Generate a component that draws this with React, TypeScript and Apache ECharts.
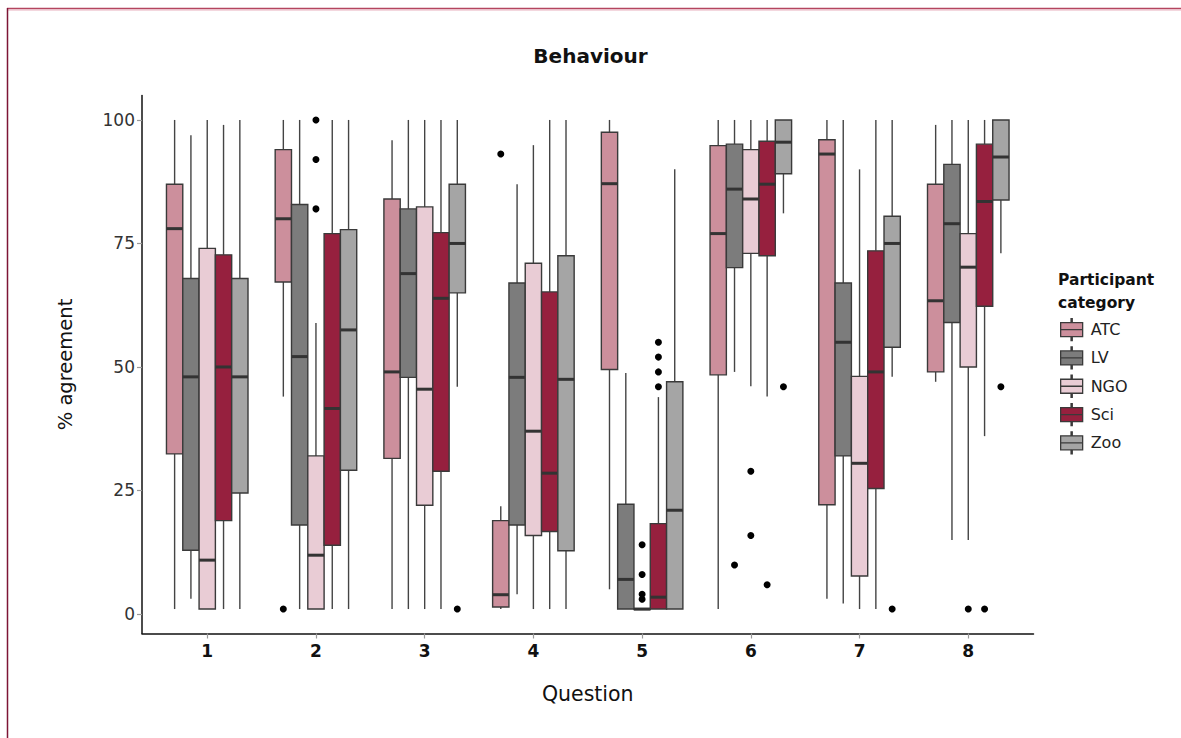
import React, { useEffect, useRef } from "react";
import * as echarts from "echarts";

const questions = [1, 2, 3, 4, 5, 6, 7, 8];
const groups = ["ATC", "LV", "NGO", "Sci", "Zoo"];
const colors = ["#CC8F9C", "#7C7C7C", "#E9CCD5", "#96203E", "#A5A5A5"];
const yTicks = [0, 25, 50, 75, 100];

// [min, q1, median, q3, max] per question 1..8
const atcStats = [
  [1, 32.4, 78, 87, 100],
  [44, 67.2, 80, 94, 100],
  [1, 31.5, 49, 84, 95.9],
  [1, 1.4, 3.9, 18.9, 21.8],
  [5, 49.5, 87.1, 97.5, 100],
  [1, 48.4, 77, 94.8, 100],
  [3.1, 22.1, 93.1, 96, 100],
  [47, 49, 63.4, 87, 99],
];
const lvStats = [
  [3.1, 12.9, 48, 67.9, 96.9],
  [1, 18, 52.1, 82.9, 100],
  [1, 47.9, 68.9, 82, 100],
  [4, 18, 47.9, 67, 87],
  [1, 1, 7, 22.2, 48.8],
  [49, 70.1, 86, 95.1, 100],
  [2.1, 32, 55, 67, 100],
  [15, 59, 79, 91, 100],
];
const ngoStats = [
  [1, 1, 10.9, 74, 100],
  [1, 1, 11.9, 32, 58.9],
  [1, 22, 45.5, 82.4, 100],
  [1, 15.9, 37, 71, 94.9],
  [1, 1, 1, 1, 1],
  [46.1, 73, 84, 94, 100],
  [1, 7.7, 30.5, 48.1, 90],
  [15, 50, 70.2, 77, 100],
];
const sciStats = [
  [1, 18.9, 50, 72.7, 99],
  [1, 13.9, 41.6, 77, 100],
  [1, 28.9, 63.9, 77.2, 100],
  [1, 16.7, 28.5, 65.2, 100],
  [1, 1, 3.4, 18.3, 43.9],
  [44, 72.5, 87, 95.7, 100],
  [1, 25.4, 49, 73.5, 100],
  [36, 62.3, 83.5, 95.1, 100],
];
const zooStats = [
  [1, 24.5, 48, 67.9, 100],
  [1, 29.1, 57.5, 77.8, 100],
  [46, 65, 75, 87, 100],
  [1, 12.8, 47.5, 72.5, 100],
  [1, 1, 21, 47, 90],
  [81.1, 89.1, 95.5, 100, 100],
  [48, 54, 75, 80.5, 100],
  [73, 83.8, 92.5, 100, 100],
];

// outliers: [question, value]
const atcOutliers = [[2, 1], [4, 93.1]];
const lvOutliers = [[6, 9.9]];
const ngoOutliers = [
  [2, 100], [2, 92], [2, 82],
  [5, 14], [5, 8], [5, 4], [5, 3],
  [6, 28.9], [6, 15.9], [8, 1],
];
const sciOutliers = [[5, 55], [5, 52], [5, 49], [5, 46], [6, 5.9], [8, 1]];
const zooOutliers = [[3, 1], [6, 46], [7, 1], [8, 46]];

const allStats = [atcStats, lvStats, ngoStats, sciStats, zooStats];
const allOutliers = [atcOutliers, lvOutliers, ngoOutliers, sciOutliers, zooOutliers];

const dodge = [-0.3, -0.15, 0, 0.15, 0.3];
const boxUnits = 0.15;
const FONT = "'DejaVu Sans', sans-serif";

const legendIcon =
  "path://M10.4,0 L11.6,0 L11.6,4 L10.4,4 Z M0,4 L22,4 L22,11 L0,11 Z M0,11 L22,11 L22,18 L0,18 Z M10.4,18 L11.6,18 L11.6,22 L10.4,22 Z";

function buildOption() {
  const boxSeries = groups.map((name, gi) => ({
    name,
    type: "custom",
    color: colors[gi],
    itemStyle: { color: colors[gi], borderColor: "#3a3a3a", borderWidth: 1.3 },
    encode: { x: 0, y: [1, 2, 3, 4, 5] },
    data: questions.map((q, qi) => [q, ...allStats[gi][qi]]),
    z: 2,
    renderItem: (params: any, api: any) => {
      const x = api.value(0) + dodge[gi];
      const pMin = api.coord([x, api.value(1)]);
      const pQ1 = api.coord([x, api.value(2)]);
      const pMed = api.coord([x, api.value(3)]);
      const pQ3 = api.coord([x, api.value(4)]);
      const pMax = api.coord([x, api.value(5)]);
      const half = api.size([boxUnits, 0])[0] / 2;
      const fill = api.visual("color");
      return {
        type: "group",
        children: [
          {
            type: "line",
            shape: { x1: pMax[0], y1: pMax[1], x2: pQ3[0], y2: pQ3[1] },
            style: { stroke: "#444", lineWidth: 1.4 },
          },
          {
            type: "line",
            shape: { x1: pQ1[0], y1: pQ1[1], x2: pMin[0], y2: pMin[1] },
            style: { stroke: "#444", lineWidth: 1.4 },
          },
          {
            type: "rect",
            shape: {
              x: pQ3[0] - half,
              y: pQ3[1],
              width: half * 2,
              height: Math.max(pQ1[1] - pQ3[1], 0.5),
            },
            style: { fill, stroke: "#3a3a3a", lineWidth: 1.4 },
          },
          {
            type: "line",
            shape: { x1: pMed[0] - half, y1: pMed[1], x2: pMed[0] + half, y2: pMed[1] },
            style: { stroke: "#333", lineWidth: 3 },
          },
        ],
      };
    },
  }));

  const outlierData: number[][] = [];
  allOutliers.forEach((list, gi) => {
    list.forEach(([q, v]) => outlierData.push([q + dodge[gi], v]));
  });

  return {
    animation: false,
    backgroundColor: "#fff",
    title: [
      {
        text: "Behaviour",
        left: "center",
        top: 46,
        padding: 0,
        textStyle: { fontFamily: FONT, fontSize: 20, fontWeight: "bold", color: "#111" },
      },
      {
        text: "Participant\ncategory",
        left: 1058,
        top: 268,
        padding: 0,
        textStyle: { fontFamily: FONT, fontSize: 15.5, fontWeight: "bold", color: "#111", lineHeight: 23 },
      },
    ],
    legend: {
      orient: "vertical",
      left: 1060,
      top: 318,
      padding: 0,
      itemWidth: 22,
      itemHeight: 23,
      itemGap: 5,
      data: groups.map((name) => ({ name, icon: legendIcon })),
      itemStyle: { borderColor: "#3a3a3a", borderWidth: 1.3 },
      textStyle: { fontFamily: FONT, fontSize: 16, color: "#222", padding: [0, 0, 0, 3] },
      selectedMode: false,
    },
    grid: { left: 142, right: 147.5, top: 95.5, bottom: 104.5, containLabel: false },
    xAxis: {
      type: "value",
      min: 0.4,
      max: 8.6,
      name: "Question",
      nameLocation: "middle",
      nameGap: 50,
      nameTextStyle: { fontFamily: FONT, fontSize: 20.5, color: "#111" },
      axisLine: { show: true, onZero: false, lineStyle: { color: "#111", width: 1.5 } },
      axisTick: { show: true, customValues: questions, length: 5, lineStyle: { color: "#999", width: 1.2 } },
      axisLabel: {
        customValues: questions,
        fontFamily: FONT,
        fontSize: 17,
        fontWeight: "bold",
        color: "#111",
        margin: 9,
      },
      splitLine: { show: false },
    },
    yAxis: {
      type: "value",
      min: -3.95,
      max: 104.95,
      name: "% agreement",
      nameLocation: "middle",
      nameGap: 67,
      nameRotate: 90,
      nameTextStyle: { fontFamily: FONT, fontSize: 19.5, color: "#111" },
      axisLine: { show: true, onZero: false, lineStyle: { color: "#111", width: 1.5 } },
      axisTick: { show: true, customValues: yTicks, length: 5, lineStyle: { color: "#999", width: 1.2 } },
      axisLabel: {
        customValues: yTicks,
        fontFamily: FONT,
        fontSize: 17,
        color: "#333",
        margin: 7,
      },
      splitLine: { show: false },
    },
    graphic: [
      { type: "line", shape: { x1: 7, y1: 8.5, x2: 1181, y2: 8.5 }, style: { stroke: "#b4455f", lineWidth: 1.5 } },
      { type: "line", shape: { x1: 8, y1: 10, x2: 1181, y2: 10 }, style: { stroke: "#e8b0bd", lineWidth: 1 } },
      { type: "line", shape: { x1: 7.5, y1: 8, x2: 7.5, y2: 738 }, style: { stroke: "#7d1535", lineWidth: 1.5 } },
    ],
    series: [
      ...boxSeries,
      {
        name: "outliers",
        type: "scatter",
        data: outlierData,
        symbol: "circle",
        symbolSize: 7,
        itemStyle: { color: "#000", opacity: 1 },
        z: 3,
      },
    ],
  };
}

export default function App() {
  const ref = useRef<HTMLDivElement>(null);
  useEffect(() => {
    if (!ref.current) return;
    const chart = echarts.init(ref.current, null, { renderer: "svg" });
    chart.setOption(buildOption() as any);
    return () => chart.dispose();
  }, []);
  return (
    <div
      ref={ref}
      style={{ position: "fixed", left: 0, top: 0, width: 1181, height: 738, background: "#fff" }}
    />
  );
}
